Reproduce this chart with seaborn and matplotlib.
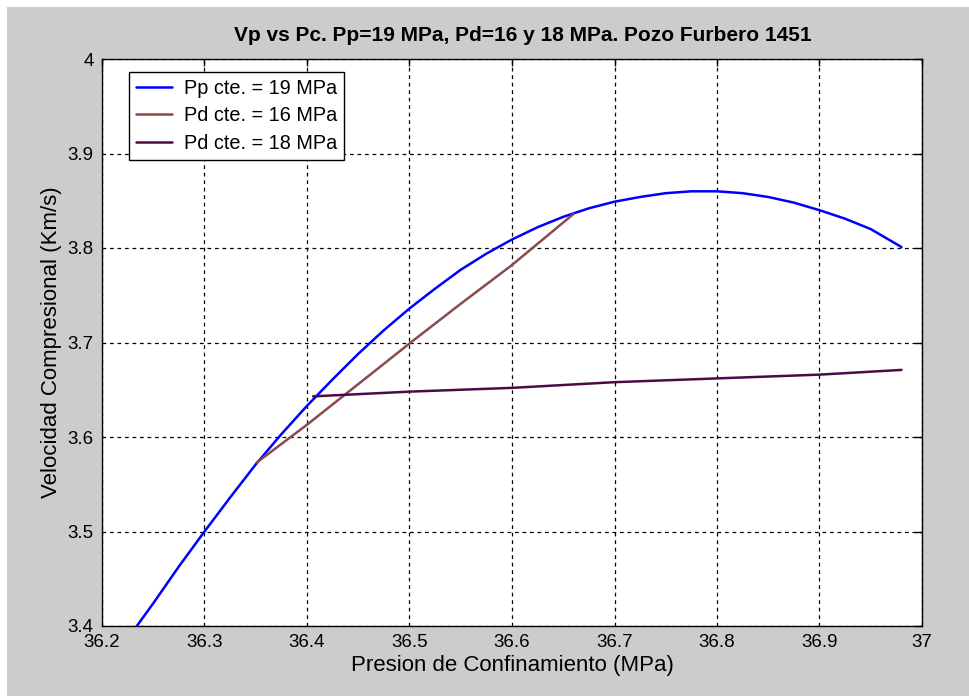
import matplotlib
matplotlib.use("Agg")
import matplotlib.pyplot as plt
import seaborn as sns
import pandas as pd
from matplotlib.patches import Rectangle
from matplotlib.ticker import FuncFormatter

# datos
pc_pp19 = [36.234, 36.250, 36.275, 36.300, 36.325, 36.350, 36.375, 36.400, 36.425,
           36.450, 36.475, 36.500, 36.525, 36.550, 36.575, 36.600, 36.625, 36.650,
           36.675, 36.700, 36.725, 36.750, 36.775, 36.800, 36.825, 36.850, 36.875,
           36.900, 36.925, 36.950, 36.980]
vp_pp19 = [3.400, 3.424, 3.463, 3.500, 3.536, 3.571, 3.603, 3.633, 3.661,
           3.688, 3.713, 3.736, 3.757, 3.777, 3.794, 3.809, 3.822, 3.833,
           3.842, 3.849, 3.854, 3.858, 3.860, 3.860, 3.858, 3.854, 3.848,
           3.840, 3.831, 3.820, 3.801]

pc_pd16 = [36.351, 36.400, 36.471, 36.500, 36.550, 36.600, 36.660]
vp_pd16 = [3.573, 3.613, 3.674, 3.699, 3.741, 3.782, 3.836]

pc_pd18 = [36.406, 36.500, 36.600, 36.700, 36.800, 36.900, 36.980]
vp_pd18 = [3.643, 3.648, 3.652, 3.658, 3.662, 3.666, 3.671]

etiquetas = ["Pp cte. = 19 MPa", "Pd cte. = 16 MPa", "Pd cte. = 18 MPa"]
colores = ["#0000ff", "#8a4b4b", "#4b0a45"]

df = pd.concat([
    pd.DataFrame({"pc": pc_pp19, "vp": vp_pp19, "serie": etiquetas[0]}),
    pd.DataFrame({"pc": pc_pd16, "vp": vp_pd16, "serie": etiquetas[1]}),
    pd.DataFrame({"pc": pc_pd18, "vp": vp_pd18, "serie": etiquetas[2]}),
])

sns.set_theme(style="white")
plt.rcParams["font.family"] = ["Liberation Sans", "DejaVu Sans"]
plt.rcParams["text.color"] = "black"
plt.rcParams["axes.labelcolor"] = "black"

fig = plt.figure(figsize=(9.7, 6.96), dpi=100, facecolor="#cccccc")
# bordes blancos arriba e izquierda
fig.patches.append(Rectangle((0, 1 - 7 / 696), 1, 7 / 696, transform=fig.transFigure,
                             facecolor="white", edgecolor="none", zorder=-1))
fig.patches.append(Rectangle((0, 0), 7 / 970, 1, transform=fig.transFigure,
                             facecolor="white", edgecolor="none", zorder=-1))

ax = fig.add_axes([102 / 970, 1 - 626 / 696, 820 / 970, 567 / 696])
ax.set_facecolor("white")

sns.lineplot(data=df, x="pc", y="vp", hue="serie", palette=dict(zip(etiquetas, colores)),
             sort=False, estimator=None, linewidth=1.8, ax=ax)

ax.set_xlim(36.2, 37)
ax.set_ylim(3.4, 4)
ax.set_xticks([36.2, 36.3, 36.4, 36.5, 36.6, 36.7, 36.8, 36.9, 37])
ax.set_yticks([3.4, 3.5, 3.6, 3.7, 3.8, 3.9, 4])
ax.xaxis.set_major_formatter(FuncFormatter(lambda v, p: f"{v:g}"))
ax.yaxis.set_major_formatter(FuncFormatter(lambda v, p: f"{v:g}"))

ax.grid(True, color="black", linestyle=(0, (3, 3)), linewidth=0.9)
ax.tick_params(direction="in", length=5, width=1, top=True, right=True,
               labelsize=13.5, colors="black", pad=6)
for s in ax.spines.values():
    s.set_color("black")
    s.set_linewidth(1)

ax.set_title("Vp vs Pc. Pp=19 MPa, Pd=16 y 18 MPa. Pozo Furbero 1451",
             fontsize=15, fontweight="bold", pad=13, x=0.513)
ax.set_xlabel("Presion de Confinamiento (MPa)", fontsize=16, labelpad=3)
ax.set_ylabel("Velocidad Compresional (Km/s)", fontsize=16, labelpad=4)

leg = ax.legend(loc="upper left", bbox_to_anchor=(0.033, 0.977), borderaxespad=0,
                fancybox=False, framealpha=1, edgecolor="black", fontsize=14.3,
                handlelength=1.8, handletextpad=0.6, labelspacing=0.42,
                borderpad=0.35, title=None)
leg.get_frame().set_linewidth(1)

fig.savefig("out.png", dpi=100, facecolor=fig.get_facecolor())
